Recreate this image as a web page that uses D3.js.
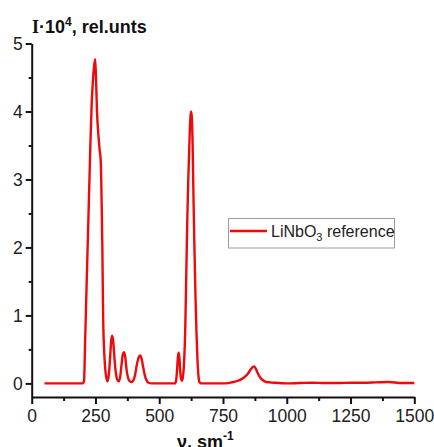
<!DOCTYPE html>
<html><head><meta charset="utf-8">
<script src="https://cdn.jsdelivr.net/npm/d3@7"></script>
<style>
html,body{margin:0;padding:0;background:#fff;}
svg{display:block;font-family:"Liberation Sans",Arial,sans-serif;}
</style></head>
<body>
<svg id="c" width="434" height="447"></svg>
<script>
// Raman spectrum of LiNbO3 reference (wavenumber, cm^-1 ; intensity x10^4)
const wavenumber = [50,100,150,200,205,210,215,220,225,230,235,240,245,249,252,256,261,266,271,274,277,280,285,290,296,
  298,303,308,312,316,320,325,330,336,342,347,352,357,362,367,372,378,385,392,398,405,412,419,425,431,437,444,451,458,470,
  500,540,562,566,570,573,576,579,582,585,589,593,598,602,606,610,614,618,622,625,628,631,634,638,642,646,650,654,658,665,
  700,760,790,810,830,845,858,866,872,878,885,895,905,920,950,1000,1050,1100,1150,1200,1250,1300,1350,1400,1450,1500];
const intensity = [0,0,0,0,0.03,0.7,1.4,2.1,2.8,3.5,4.1,4.45,4.68,4.77,4.5,4.0,3.68,3.45,3.25,2.7,2.0,1.0,0.4,0.15,0.04,
  0.03,0.15,0.42,0.64,0.70,0.6,0.35,0.15,0.05,0.03,0.1,0.27,0.42,0.46,0.38,0.2,0.08,0.03,0.02,0.04,0.12,0.27,0.38,0.41,0.36,0.24,0.11,0.04,0.01,0,
  0,0,0,0.04,0.2,0.38,0.45,0.38,0.2,0.08,0.04,0.1,0.35,0.8,1.6,2.4,3.0,3.5,3.9,4.0,3.9,3.5,2.8,2.0,1.3,0.75,0.35,0.1,0.02,0,
  0,0,0.02,0.04,0.08,0.13,0.2,0.24,0.25,0.22,0.16,0.09,0.05,0.02,0.01,0,0.005,0.01,0.005,0.005,0.01,0.01,0.015,0.02,0.005,0.005];
const xTicks = [0,250,500,750,1000,1250,1500];
const xMinor = [125,375,625,875,1125,1375];
const yTicks = [0,1,2,3,4,5];
const yMinor = [0.5,1.5,2.5,3.5,4.5];
const seriesName = "LiNbO";

const svg = d3.select("#c");
const x = d3.scaleLinear().domain([0,1500]).range([31.7,414.3]);
const y = d3.scaleLinear().domain([-0.2,5]).range([397,43.5]);
const fmt = d3.format("d");

// axes
svg.append("g").attr("transform","translate(0,397)")
  .call(d3.axisBottom(x).tickValues(xTicks).tickFormat(fmt).tickSize(7).tickSizeOuter(0).tickPadding(6));
svg.append("g").attr("transform","translate(0,397)")
  .call(d3.axisBottom(x).tickValues(xMinor).tickSize(4).tickFormat(""))
  .select(".domain").remove();
svg.append("g").attr("transform","translate(31.7,0)")
  .call(d3.axisLeft(y).tickValues(yTicks).tickFormat(fmt).tickSize(6).tickSizeOuter(0).tickPadding(3));
svg.append("g").attr("transform","translate(31.7,0)")
  .call(d3.axisLeft(y).tickValues(yMinor).tickSize(3).tickFormat(""))
  .select(".domain").remove();

svg.selectAll(".domain,.tick line").attr("stroke","#111").attr("stroke-width",2);
svg.selectAll(".tick text").attr("fill","#222").style("font-size","17.5px")
  .style("font-family","'Liberation Sans',Arial,sans-serif");

// line
const pts = wavenumber.map((w,i)=>[w,intensity[i]]);
svg.append("path").datum(pts)
  .attr("fill","none").attr("stroke","#ee0a0a").attr("stroke-width",2.4)
  .attr("stroke-linejoin","round")
  .attr("d", d3.line().x(d=>x(d[0])).y(d=>y(d[1])).curve(d3.curveMonotoneX));

// y title
const t = svg.append("text").attr("x",32).attr("y",33).attr("font-weight","bold")
  .attr("font-size",18).attr("fill","#111");
t.append("tspan").attr("font-family","'Liberation Serif',serif").text("I");
t.append("tspan").text("·10");
t.append("tspan").attr("dy",-7).attr("font-size",12).text("4");
t.append("tspan").attr("dy",7).text(", rel.unts");

// x title
const xt = svg.append("text").attr("x",177).attr("y",448).attr("font-weight","bold")
  .attr("font-size",18).attr("fill","#111");
xt.append("tspan").text("ν, sm");
xt.append("tspan").attr("dy",-8).attr("font-size",12).text("-1");

// legend
const lg = svg.append("g");
lg.append("rect").attr("x",228.5).attr("y",218.5).attr("width",166).attr("height",29.5)
  .attr("fill","#fff").attr("stroke","#9a9a9a").attr("stroke-width",1);
lg.append("line").attr("x1",230).attr("x2",267).attr("y1",231).attr("y2",231)
  .attr("stroke","#ee0a0a").attr("stroke-width",2.4);
const lt = lg.append("text").attr("x",271).attr("y",237).attr("font-size",16).attr("fill","#222");
lt.append("tspan").text(seriesName);
lt.append("tspan").attr("dy",4).attr("font-size",11).text("3");
lt.append("tspan").attr("dy",-4).text(" reference");
</script>
</body></html>
